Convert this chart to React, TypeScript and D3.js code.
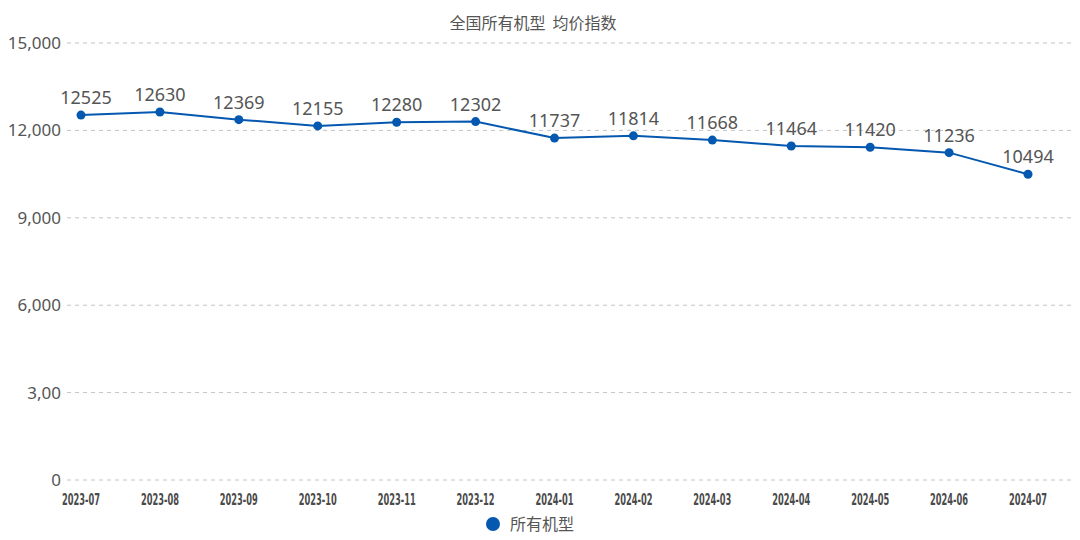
import React from "react";
import * as d3 from "d3";

const categories = ["2023-07","2023-08","2023-09","2023-10","2023-11","2023-12","2024-01","2024-02","2024-03","2024-04","2024-05","2024-06","2024-07"];
const values = [12525,12630,12369,12155,12280,12302,11737,11814,11668,11464,11420,11236,10494];
const yTicks = [0,3000,6000,9000,12000,15000];
const yTickLabels = ["0","3,00","6,000","9,000","12,000","15,000"];
const title = "全国所有机型  均价指数";
const seriesName = "所有机型";

const W = 1080, H = 540;
const COLOR = "#0558b0";
const TEXT = "#555";
const FONT = "'Noto Sans', 'Noto Sans CJK SC', sans-serif";

export default function App() {
  const x = d3.scalePoint<string>().domain(categories).range([81, 1028]);
  const y = d3.scaleLinear().domain([0, 15000]).range([480, 43]);
  const line = d3.line<number>().x((_, i) => x(categories[i])!).y(d => y(d));
  return (
    <svg width={W} height={H} style={{ position: "absolute", left: 0, top: 0 }}>
      <rect width={W} height={H} fill="#fff" />
      <text x={533} y={29} textAnchor="middle" fontSize={16} fill={TEXT} fontFamily="'Noto Sans CJK SC', sans-serif" style={{ whiteSpace: "pre" }}>{title}</text>
      {yTicks.map((t, i) => (
        <g key={t}>
          <line x1={67} x2={1071} y1={y(t)} y2={y(t)} stroke="#c4c4c4" strokeDasharray="4,4" strokeWidth={1} />
          <text x={61} y={y(t)} dy="0.35em" textAnchor="end" fontSize={17} fill={TEXT} fontFamily={FONT}>{yTickLabels[i]}</text>
        </g>
      ))}
      {categories.map(c => (
        <text key={c} x={x(c)} y={505} textAnchor="middle" fontSize={15} fill="#4a4a4a" fontWeight="bold"
          fontFamily="'Liberation Sans Narrow', 'DejaVu Sans Condensed', sans-serif"
          textLength={38} lengthAdjust="spacingAndGlyphs">{c}</text>
      ))}
      <path d={line(values)!} fill="none" stroke={COLOR} strokeWidth={2} />
      {values.map((v, i) => (
        <g key={i}>
          <circle cx={x(categories[i])} cy={y(v)} r={4.5} fill={COLOR} />
          <text x={x(categories[i])! + (i === 0 ? 5 : 0)} y={y(v) - 11} textAnchor="middle" fontSize={18} fill={TEXT} fontFamily={FONT}>{v}</text>
        </g>
      ))}
      <circle cx={493} cy={524} r={7} fill={COLOR} />
      <text x={510} y={524} dy="0.35em" fontSize={16} fill={TEXT} fontFamily="'Noto Sans CJK SC', sans-serif">{seriesName}</text>
    </svg>
  );
}
